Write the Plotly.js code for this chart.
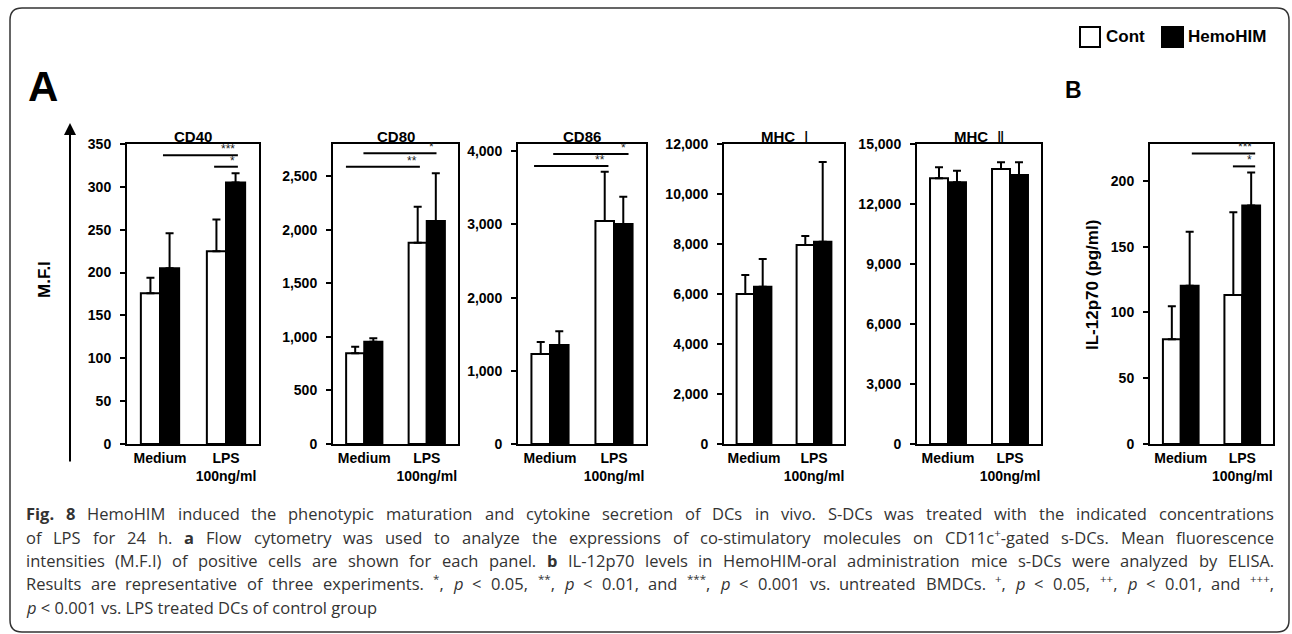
<!DOCTYPE html>
<html>
<head>
<meta charset="utf-8">
<script src="https://cdn.plot.ly/plotly-3.0.1.min.js"></script>
<style>html,body{margin:0;padding:0;background:#fff;}#chart{width:1292px;height:634px;}</style>
</head>
<body>
<div id="chart"></div>
<script>
// ---------- DATA ----------
const categories = ["Medium", "LPS<br>100ng/ml"];
const panelNames = ["CD40", "CD80", "CD86", "MHC Ⅰ", "MHC Ⅱ", ""];
const contMean = [
  [176, 225],       // CD40
  [846, 1879],      // CD80
  [1230, 3048],     // CD86
  [6000, 7960],     // MHC I
  [13283, 13750],   // MHC II
  [79.6, 113.2]     // IL-12p70
];
const contSD = [
  [18, 37],
  [62, 336],
  [164, 674],
  [760, 360],
  [550, 335],
  [25, 63]
];
const hemoMean = [
  [205, 305],
  [955, 2081],
  [1353, 3007],
  [6293, 8093],
  [13083, 13450],
  [120.3, 181.3]
];
const hemoSD = [
  [41, 11],
  [31, 446],
  [187, 373],
  [1107, 3187],
  [584, 635],
  [41, 25]
];
const yMax = [350, 2800, 4100, 12000, 15000, 228];
const yStep = [50, 500, 1000, 2000, 3000, 50];
// significance brackets: panel index, start, end (category index units), level, label
const sigPanel = [0, 0, 1, 1, 2, 2, 5, 5];
const sigStart = [0.045, 0.82, -0.013, -0.293, 0.05, -0.249, 0.18, 0.848];
const sigEnd   = [1.18, 1.18, 1.156, 0.89, 1.227, 0.913, 1.21, 1.21];
const sigLevel = [337, 323.5, 2713, 2588, 3963, 3799, 220.8, 211];
const sigLabel = ["***", "*", "*", "**", "*", "**", "***", "*"];
const seriesNames = ["Cont", "HemoHIM"];
const captionLines = [
  "<b>Fig.</b> <b>8</b> HemoHIM induced the phenotypic maturation and cytokine secretion of DCs in vivo. S-DCs was treated with the indicated concentrations",
  "of LPS for 24 h. <b>a</b> Flow cytometry was used to analyze the expressions of co-stimulatory molecules on CD11c<sup>+</sup>-gated s-DCs. Mean fluorescence",
  "intensities (M.F.I) of positive cells are shown for each panel. <b>b</b> IL-12p70 levels in HemoHIM-oral administration mice s-DCs were analyzed by ELISA.",
  "Results are representative of three experiments. <sup>*</sup>, <i>p</i> &lt; 0.05, <sup>**</sup>, <i>p</i> &lt; 0.01, and <sup>***</sup>, <i>p</i> &lt; 0.001 vs. untreated BMDCs. <sup>+</sup>, <i>p</i> &lt; 0.05, <sup>++</sup>, <i>p</i> &lt; 0.01, and <sup>+++</sup>,",
  "<i>p</i> &lt; 0.001 vs. LPS treated DCs of control group"
];

// ---------- LAYOUT ----------
const W = 1292, H = 634;
const px = v => v / W;
const py = v => 1 - v / H;
const boxes = [[127, 259], [333, 458], [518, 646], [724, 844], [917, 1041], [1150, 1273]];
const yTop = 144, yBot = 444;
const FAM = "Liberation Sans, Arial, sans-serif";
const bold = {family: FAM, size: 14, color: "#000", weight: "bold"};

const traces = [];
const layout = {
  width: W, height: H,
  margin: {l: 0, r: 0, t: 0, b: 0},
  paper_bgcolor: "#fff", plot_bgcolor: "#fff",
  showlegend: false,
  barmode: "group", bargap: 0.42, bargroupgap: 0,
  shapes: [], annotations: []
};

for (let i = 0; i < 6; i++) {
  const s = i === 0 ? "" : String(i + 1);
  const xa = "x" + s, ya = "y" + s;
  const eb = {type: "data", symmetric: false, arrayminus: [0, 0], color: "#000", thickness: 2, width: 4};
  traces.push({
    type: "bar", name: seriesNames[0], x: categories, y: contMean[i],
    xaxis: xa, yaxis: ya,
    marker: {color: "#fff", line: {color: "#000", width: 2}},
    error_y: Object.assign({}, eb, {array: contSD[i]}),
    hoverinfo: "skip"
  });
  traces.push({
    type: "bar", name: seriesNames[1], x: categories, y: hemoMean[i],
    xaxis: xa, yaxis: ya,
    marker: {color: "#000", line: {color: "#000", width: 2}},
    error_y: Object.assign({}, eb, {array: hemoSD[i]}),
    hoverinfo: "skip"
  });
  layout["xaxis" + s] = {
    domain: [px(boxes[i][0]), px(boxes[i][1])], anchor: ya,
    type: "category", range: [-0.5, 1.5],
    showline: true, linewidth: 2, linecolor: "#000", mirror: true,
    ticks: "", showgrid: false, zeroline: false,
    tickfont: bold, fixedrange: true
  };
  layout["yaxis" + s] = {
    domain: [py(yBot), py(yTop)], anchor: xa,
    range: [0, yMax[i]], dtick: yStep[i], tick0: 0,
    tickformat: ",d",
    showline: true, linewidth: 2, linecolor: "#000", mirror: true,
    ticks: "outside", ticklen: 5, tickwidth: 2, tickcolor: "#000",
    ticklabelstandoff: 6,
    showgrid: false, zeroline: false,
    tickfont: bold, fixedrange: true
  };
  if (panelNames[i]) {
    const t = panelNames[i];
    const txt = t.startsWith("MHC") ? "<b>MHC</b>  " + t.slice(4) : "<b>" + t + "</b>";
    layout.annotations.push({
      xref: "paper", yref: "paper", x: px((boxes[i][0] + boxes[i][1]) / 2), y: py(136),
      xanchor: "center", yanchor: "middle", showarrow: false,
      text: txt, font: {family: FAM, size: 15, color: "#000"}
    });
  }
}

// significance brackets
for (let k = 0; k < sigPanel.length; k++) {
  const i = sigPanel[k];
  const s = i === 0 ? "" : String(i + 1);
  layout.shapes.push({
    type: "line", xref: "x" + s, yref: "y" + s,
    x0: sigStart[k], x1: sigEnd[k], y0: sigLevel[k], y1: sigLevel[k],
    line: {color: "#000", width: 2}
  });
  layout.annotations.push({
    xref: "x" + s, yref: "y" + s, x: sigEnd[k], y: sigLevel[k],
    xanchor: "right", yanchor: "bottom", yshift: -3, xshift: -1, showarrow: false,
    text: sigLabel[k], font: {family: FAM, size: 12, color: "#222"}
  });
}

// axis titles
layout.annotations.push({
  xref: "paper", yref: "paper", x: px(45), y: py(280), textangle: -90,
  xanchor: "center", yanchor: "middle", showarrow: false,
  text: "<b>M.F.I</b>", font: {family: FAM, size: 17, color: "#000"}
});
layout.annotations.push({
  xref: "paper", yref: "paper", x: px(1092), y: py(285), textangle: -90,
  xanchor: "center", yanchor: "middle", showarrow: false,
  text: "<b>IL-12p70 (pg/ml)</b>", font: {family: FAM, size: 17, color: "#000"}
});
// arrow
layout.annotations.push({
  xref: "paper", yref: "paper", x: px(70), y: py(123),
  axref: "pixel", ayref: "pixel", ax: 0, ay: 340,
  showarrow: true, arrowhead: 2, arrowsize: 1.2, arrowwidth: 2, arrowcolor: "#000", text: ""
});
// panel letters
layout.annotations.push({
  xref: "paper", yref: "paper", x: px(43), y: py(86), xanchor: "center", yanchor: "middle",
  showarrow: false, text: "<b>A</b>", font: {family: FAM, size: 42, color: "#000"}
});
layout.annotations.push({
  xref: "paper", yref: "paper", x: px(1073), y: py(90), xanchor: "center", yanchor: "middle",
  showarrow: false, text: "<b>B</b>", font: {family: FAM, size: 23, color: "#000"}
});
// legend
layout.shapes.push({type: "rect", xref: "paper", yref: "paper", x0: px(1080), x1: px(1100), y0: py(47), y1: py(27),
  line: {color: "#000", width: 2}, fillcolor: "#fff"});
layout.shapes.push({type: "rect", xref: "paper", yref: "paper", x0: px(1162), x1: px(1183), y0: py(47), y1: py(27),
  line: {color: "#000", width: 2}, fillcolor: "#000"});
layout.annotations.push({xref: "paper", yref: "paper", x: px(1104), y: py(37), xanchor: "left", yanchor: "middle",
  showarrow: false, text: "<b>" + seriesNames[0] + "</b>", font: {family: FAM, size: 17, color: "#000"}});
layout.annotations.push({xref: "paper", yref: "paper", x: px(1186), y: py(37), xanchor: "left", yanchor: "middle",
  showarrow: false, text: "<b>" + seriesNames[1] + "</b>", font: {family: FAM, size: 17, color: "#000"}});

// outer rounded frame
const fx0 = 10, fx1 = 1289, fy0 = 8, fy1 = 632, r = 12;
layout.shapes.push({
  type: "path", xref: "paper", yref: "paper", layer: "below",
  path: `M ${px(fx0 + r)},${py(fy0)} L ${px(fx1 - r)},${py(fy0)} Q ${px(fx1)},${py(fy0)} ${px(fx1)},${py(fy0 + r)} ` +
        `L ${px(fx1)},${py(fy1 - r)} Q ${px(fx1)},${py(fy1)} ${px(fx1 - r)},${py(fy1)} ` +
        `L ${px(fx0 + r)},${py(fy1)} Q ${px(fx0)},${py(fy1)} ${px(fx0)},${py(fy1 - r)} ` +
        `L ${px(fx0)},${py(fy0 + r)} Q ${px(fx0)},${py(fy0)} ${px(fx0 + r)},${py(fy0)} Z`,
  line: {color: "#333", width: 1.5}
});

// caption (justified lines, word by word)
const CAP_FAM = "Open Sans";
const CAP_SIZE = 16.5;
const capLeft = 24, capRight = 1272;
const capY = [513, 537, 560, 583, 607];
const ctx = document.createElement("canvas").getContext("2d");
function measureToken(html) {
  let b = false, it = false, sup = false, w = 0;
  const parts = html.split(/(<\/?(?:b|i|sup)>)/);
  for (const p of parts) {
    if (!p) continue;
    const m = p.match(/^<(\/?)(b|i|sup)>$/);
    if (m) {
      const on = m[1] !== "/";
      if (m[2] === "b") b = on; else if (m[2] === "i") it = on; else sup = on;
      continue;
    }
    const txt = p.replace(/&lt;/g, "<").replace(/&gt;/g, ">").replace(/&amp;/g, "&");
    ctx.font = `${it ? "italic " : ""}${b ? "bold " : ""}${CAP_SIZE * (sup ? 0.7 : 1)}px "${CAP_FAM}"`;
    w += ctx.measureText(txt).width;
  }
  return w;
}
captionLines.forEach((line, k) => {
  const justify = k < captionLines.length - 1;
  if (!justify) {
    layout.annotations.push({
      xref: "paper", yref: "paper", x: px(capLeft), y: py(capY[k]), xanchor: "left", yanchor: "middle",
      showarrow: false, text: line, font: {family: CAP_FAM, size: CAP_SIZE, color: "#333"}
    });
    return;
  }
  const words = line.split(" ");
  const widths = words.map(measureToken);
  const total = widths.reduce((a, c) => a + c, 0);
  const gap = (capRight - capLeft - total) / (words.length - 1);
  let xcur = capLeft;
  words.forEach((wd, j) => {
    layout.annotations.push({
      xref: "paper", yref: "paper", x: px(xcur), y: py(capY[k]), xanchor: "left", yanchor: "middle",
      showarrow: false, text: wd, font: {family: CAP_FAM, size: CAP_SIZE, color: "#333"}
    });
    xcur += widths[j] + gap;
  });
});

Plotly.newPlot("chart", traces, layout, {staticPlot: true, displayModeBar: false});
</script>
</body>
</html>
